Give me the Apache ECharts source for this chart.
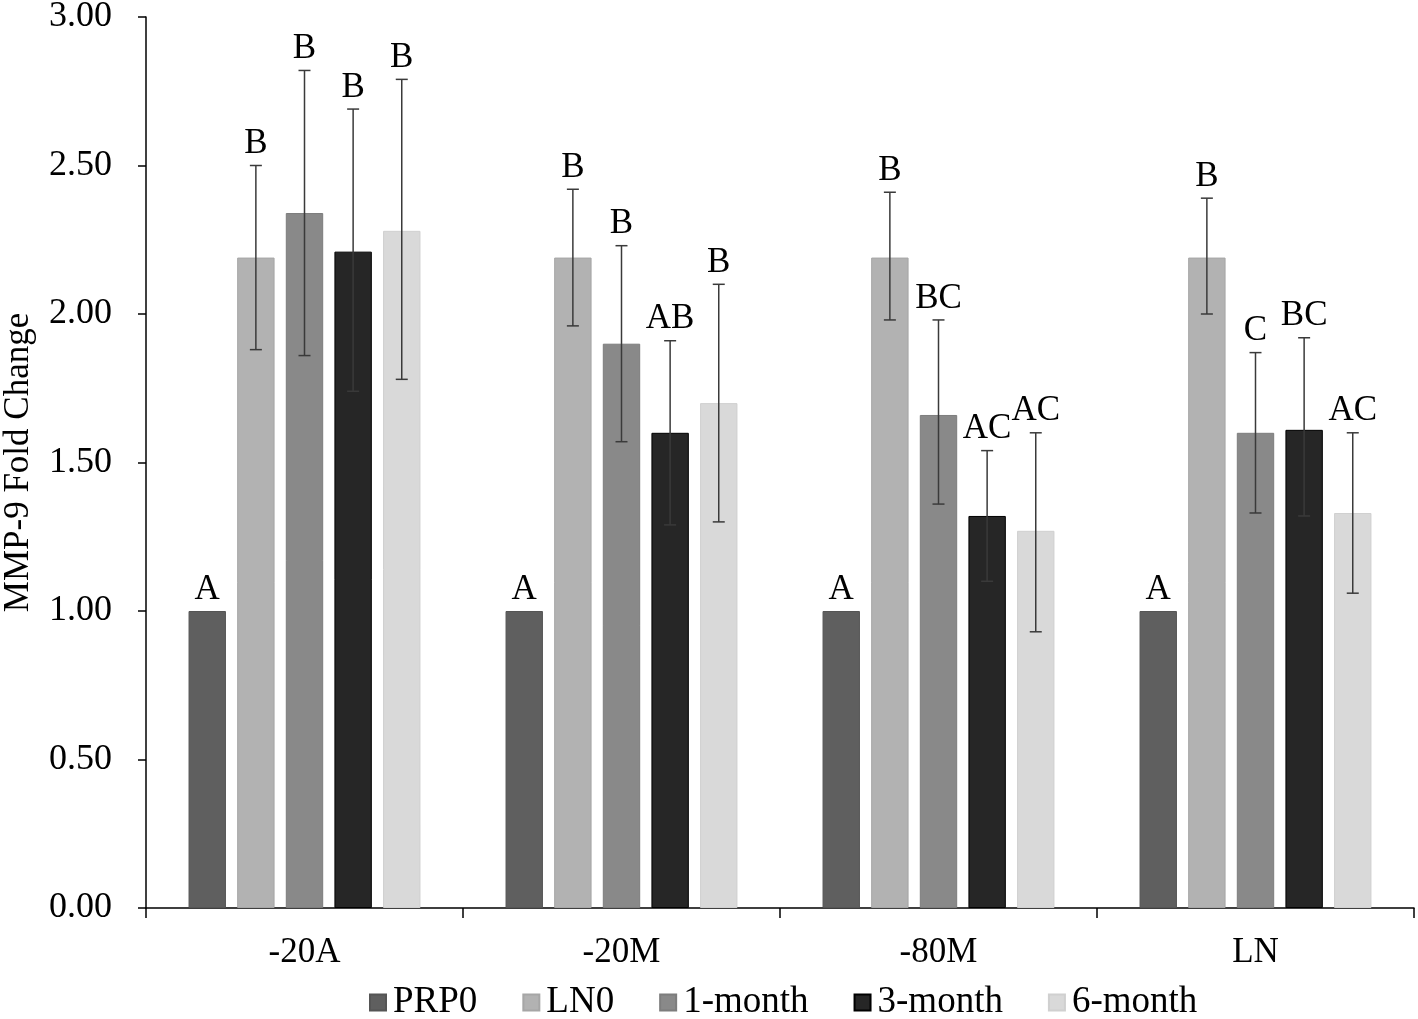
<!DOCTYPE html>
<html>
<head>
<meta charset="utf-8">
<script src="https://cdn.jsdelivr.net/npm/echarts@6/dist/echarts.min.js"></script>
<style>
  html, body { margin: 0; padding: 0; background: #fff; }
  #chart { width: 1418px; height: 1019px; }
</style>
</head>
<body>
<div id="chart"></div>
<script>
const FONT = '"Liberation Serif", "Times New Roman", serif';

const categories = ['-20A', '-20M', '-80M', 'LN'];
const seriesNames = ['PRP0', 'LN0', '1-month', '3-month', '6-month'];

const prp0 = [1.00, 1.00, 1.00, 1.00];
const ln0 = [2.19, 2.19, 2.19, 2.19];
const month1 = [2.34, 1.90, 1.66, 1.60];
const month3 = [2.21, 1.60, 1.32, 1.61];
const month6 = [2.28, 1.70, 1.27, 1.33];

// error bar ranges [low, high]
const prp0Err = [null, null, null, null];
const ln0Err = [[1.88, 2.50], [1.96, 2.42], [1.98, 2.41], [2.00, 2.39]];
const month1Err = [[1.86, 2.82], [1.57, 2.23], [1.36, 1.98], [1.33, 1.87]];
const month3Err = [[1.74, 2.69], [1.29, 1.91], [1.10, 1.54], [1.32, 1.92]];
const month6Err = [[1.78, 2.79], [1.30, 2.10], [0.93, 1.60], [1.06, 1.60]];

const prp0Letters = ['A', 'A', 'A', 'A'];
const ln0Letters = ['B', 'B', 'B', 'B'];
const month1Letters = ['B', 'B', 'BC', 'C'];
const month3Letters = ['B', 'AB', 'AC', 'BC'];
const month6Letters = ['B', 'B', 'AC', 'AC'];

const yTicks = [0, 0.5, 1, 1.5, 2, 2.5, 3];

const COLORS = ['#5f5f5f', '#b2b2b2', '#898989', '#262626', '#d9d9d9'];
const BORDERS = ['#555555', '#a6a6a6', '#7d7d7d', '#000000', '#d0d0d0'];
const BAR_FRAC = 0.118;
const GAP_FRAC = 0.30;

const means = [prp0, ln0, month1, month3, month6];
const errs = [prp0Err, ln0Err, month1Err, month3Err, month6Err];
const letters = [prp0Letters, ln0Letters, month1Letters, month3Letters, month6Letters];

const errItems = [];
const errLetters = [];
means.forEach((vals, s) => {
  vals.forEach((v, c) => {
    const e = errs[s][c];
    errItems.push([c, s, v, e ? e[0] : v, e ? e[1] : v]);
    errLetters.push(letters[s][c]);
  });
});

function renderErr(params, api) {
  const c = api.value(0), s = api.value(1), mean = api.value(2), lo = api.value(3), hi = api.value(4);
  const band = api.size([1, 0])[0];
  const bw = band * BAR_FRAC;
  const step = bw * (1 + GAP_FRAC);
  const x = api.coord([c, 0])[0] + (s - 2) * step;
  const yHi = api.coord([c, hi])[1];
  const yLo = api.coord([c, lo])[1];
  const yMean = api.coord([c, mean])[1];
  const children = [];
  const st = { stroke: '#3a3a3a', lineWidth: 1.5 };
  if (hi !== lo) {
    children.push({ type: 'line', shape: { x1: x, y1: yHi, x2: x, y2: yLo }, style: st });
    children.push({ type: 'line', shape: { x1: x - 6, y1: yHi, x2: x + 6, y2: yHi }, style: st });
    children.push({ type: 'line', shape: { x1: x - 6, y1: yLo, x2: x + 6, y2: yLo }, style: st });
  }
  const top = Math.min(yHi, yMean);
  children.push({
    type: 'text',
    style: {
      x: x, y: top - 4, text: errLetters[params.dataIndex],
      align: 'center', verticalAlign: 'bottom',
      font: '35px ' + FONT, fill: '#000'
    }
  });
  return { type: 'group', children: children };
}

const chart = echarts.init(document.getElementById('chart'), null, { renderer: 'canvas' });

const barSeries = seriesNames.map((name, i) => ({
  name: name,
  type: 'bar',
  data: means[i],
  barWidth: (BAR_FRAC * 100) + '%',
  barGap: (GAP_FRAC * 100) + '%',
  itemStyle: { color: COLORS[i], borderColor: BORDERS[i], borderWidth: 1 },
  z: 2
}));

chart.setOption({
  backgroundColor: '#ffffff',
  animation: false,
  grid: { left: 146, right: 4, top: 17, bottom: 111, containLabel: false, outerBoundsMode: 'none' },
  legend: {
    data: seriesNames,
    top: 984,
    left: 369,
    padding: 0,
    itemWidth: 16,
    itemHeight: 16,
    itemGap: 45,
    icon: 'rect',
    textStyle: { fontFamily: FONT, fontSize: 37, color: '#000', padding: [0, 0, 0, 2] }
  },
  xAxis: {
    type: 'category',
    data: categories,
    axisLine: { lineStyle: { color: '#000', width: 1.5 } },
    axisTick: { show: true, length: 10, lineStyle: { color: '#000', width: 1.5 } },
    axisLabel: { fontFamily: FONT, fontSize: 35, color: '#000', margin: 27 }
  },
  yAxis: {
    type: 'value',
    min: yTicks[0],
    max: yTicks[yTicks.length - 1],
    interval: 0.5,
    name: 'MMP-9 Fold Change',
    nameLocation: 'middle',
    nameGap: 110,
    nameTextStyle: { fontFamily: FONT, fontSize: 35, color: '#000' },
    axisLine: { show: true, lineStyle: { color: '#000', width: 1.5 } },
    axisTick: { show: true, length: 8, inside: false, lineStyle: { color: '#000', width: 1.5 } },
    splitLine: { show: false },
    axisLabel: {
      fontFamily: FONT, fontSize: 36, color: '#000', margin: 34,
      formatter: v => v.toFixed(2)
    }
  },
  series: barSeries.concat([{
    name: 'errors',
    type: 'custom',
    renderItem: renderErr,
    data: errItems,
    encode: { x: 0, y: [2, 3, 4] },
    z: 5,
    silent: true
  }])
});
</script>
</body>
</html>
